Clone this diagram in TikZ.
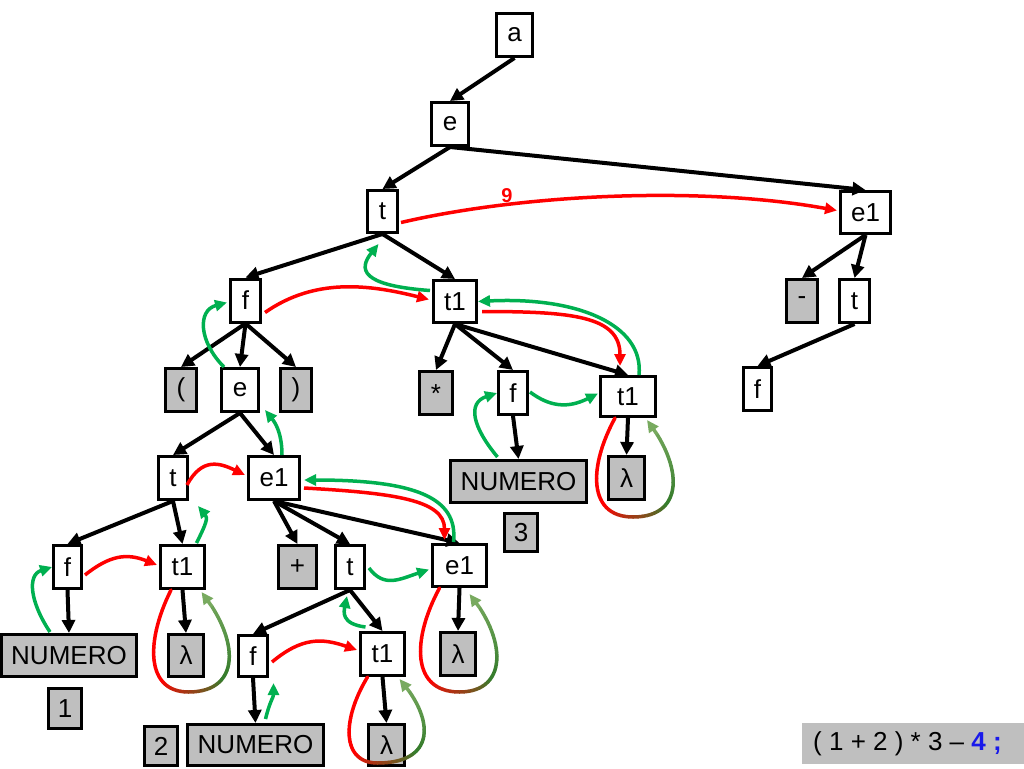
\documentclass[tikz,border=0pt]{standalone}
\usepackage{fontspec}
\setmainfont{Liberation Sans}
\usetikzlibrary{arrows.meta,calc}
\definecolor{arrgreen}{RGB}{0,176,80}
\definecolor{dkgreen}{RGB}{55,125,45}
\definecolor{ltgreen}{RGB}{120,170,95}
\definecolor{exprblue}{RGB}{25,25,235}
\definecolor{arrred}{RGB}{255,0,0}
\newcommand\cubicpt[5]{\pgfmathsetmacro\cres{(1-#1)^3*(#2)+3*(1-#1)^2*(#1)*(#3)+3*(1-#1)*(#1)^2*(#4)+(#1)^3*(#5)}}
% #1 node, #2 sx, #3 lx, #4 bx, #5 by, #6 rx, #7 ex, #8 ey
\newcommand\gradloop[8]{%
  \begin{scope}[shift={(#1.south)}]
    \foreach \i in {1,...,30}{%
      \pgfmathsetmacro\ta{(\i-1)/30}\pgfmathsetmacro\tb{\i/30}%
      \cubicpt{\ta}{#2}{#3}{#3}{#4}\let\xa\cres
      \cubicpt{\ta}{0}{0.5*(#5)}{#5}{#5}\let\ya\cres
      \cubicpt{\tb}{#2}{#3}{#3}{#4}\let\xb\cres
      \cubicpt{\tb}{0}{0.5*(#5)}{#5}{#5}\let\yb\cres
      \pgfmathtruncatemacro\gpa{max(0,min(100,(0.66-(\i-0.5)/60)/0.3*100))}%
      \draw[loopseg,color=red!\gpa!dkgreen] (\xa,\ya) -- (\xb,\yb);
    }
    \foreach \i in {1,...,27}{%
      \pgfmathsetmacro\ta{(\i-1)/30}\pgfmathsetmacro\tb{\i/30}%
      \cubicpt{\ta}{#4}{#6}{#6}{#7}\let\xa\cres
      \cubicpt{\ta}{#5}{#5}{0.5*(#5)}{#8}\let\ya\cres
      \cubicpt{\tb}{#4}{#6}{#6}{#7}\let\xb\cres
      \cubicpt{\tb}{#5}{#5}{0.5*(#5)}{#8}\let\yb\cres
      \pgfmathtruncatemacro\gpa{max(0,min(100,(0.66-0.5-(\i-0.5)/60)/0.3*100))}%
      \pgfmathtruncatemacro\gpb{max(0,min(100,(0.5-(\i-0.5)/60)/0.3*100))}%
      \colorlet{gtmp}{dkgreen!\gpb!ltgreen}%
      \draw[loopseg,color=red!\gpa!gtmp] (\xa,\ya) -- (\xb,\yb);
    }
    \cubicpt{0.9}{#4}{#6}{#6}{#7}\let\xa\cres
    \cubicpt{0.9}{#5}{#5}{0.5*(#5)}{#8}\let\ya\cres
    \draw[line width=3.5pt,color=ltgreen,-{Triangle[length=12pt,width=11pt]}] (\xa,\ya) -- (#7,#8);
  \end{scope}}
\begin{document}
\begin{tikzpicture}[x=1pt,y=-1pt,
  nd/.style={draw,line width=3pt,fill=white,inner sep=0pt,font=\fontsize{26}{30}\selectfont},
  gr/.style={nd,fill=black!25},
  tree/.style={line width=4pt,-{Triangle[length=13pt,width=13pt]}},
  loopseg/.style={line width=3.5pt,line cap=round},
  redarr/.style={line width=3.5pt,color=arrred,-{Triangle[length=12pt,width=11pt]}},
  grnarr/.style={line width=3.5pt,color=arrgreen,-{Triangle[length=12pt,width=11pt]}}]
\useasboundingbox (0,0) rectangle (1024,768);
% nodes
\node[nd,minimum width=36,minimum height=43] (a) at (514.5,35) {a};
\node[nd,minimum width=37,minimum height=43] (e0) at (450,124) {e};
\node[nd,minimum width=30,minimum height=42] (t0) at (382.5,211.5) {t};
\node[nd,minimum width=50,minimum height=42] (e1r) at (865.5,212.5) {e1};
\node[nd,minimum width=30,minimum height=43] (f3) at (245.5,300.5) {f};
\node[nd,minimum width=43,minimum height=42] (t1m) at (455,301.5) {t1};
\node[gr,minimum width=31,minimum height=43] (minus) at (802,301) {-};
\node[nd,minimum width=30,minimum height=43] (tr) at (854.5,301) {t};
\node[nd,minimum width=28,minimum height=43] (fr) at (757.5,389) {f};
\node[gr,minimum width=31,minimum height=43] (lp) at (181,390) {(};
\node[nd,minimum width=37,minimum height=43] (e4) at (240,390) {e};
\node[gr,minimum width=31,minimum height=43] (rp) at (296,390) {)};
\node[gr,minimum width=33,minimum height=43,text height=19pt,text depth=0pt] (star) at (436,393) {*};
\node[nd,minimum width=29,minimum height=43] (f4) at (513,393) {f};
\node[nd,minimum width=55,minimum height=40] (t1r) at (628,396.5) {t1};
\node[gr,minimum width=136,minimum height=42] (num3) at (518.5,481.5) {NUMERO};
\node[gr,minimum width=36,minimum height=43] (lamr) at (626.5,478) {λ};
\node[gr,minimum width=33,minimum height=38] (three) at (521,532.5) {3};
\node[nd,minimum width=29,minimum height=43] (t5) at (173,478) {t};
\node[nd,minimum width=51,minimum height=43] (e15) at (274,478) {e1};
\node[nd,minimum width=28,minimum height=43] (f6) at (67.5,567) {f};
\node[nd,minimum width=44,minimum height=43] (t16) at (182.5,567) {t1};
\node[gr,minimum width=38,minimum height=43] (plus) at (297.5,567) {+};
\node[nd,minimum width=29,minimum height=43] (t6) at (350,567) {t};
\node[nd,minimum width=54,minimum height=42] (e16) at (459.5,565.5) {e1};
\node[gr,minimum width=135,minimum height=42] (num1) at (69,655.5) {NUMERO};
\node[gr,minimum width=35,minimum height=42] (lam6) at (186,655.5) {λ};
\node[nd,minimum width=29,minimum height=41] (f7) at (253,656) {f};
\node[nd,minimum width=44,minimum height=43] (t17) at (382.5,654) {t1};
\node[gr,minimum width=35,minimum height=43] (lame) at (458,654) {λ};
\node[gr,minimum width=33,minimum height=40] (one) at (65,708.5) {1};
\node[gr,minimum width=33,minimum height=39] (two) at (161,746) {2};
\node[gr,minimum width=136,minimum height=41] (num2) at (255.5,745) {NUMERO};
\node[gr,minimum width=36,minimum height=41] (lam7) at (386.5,745) {λ};
% expression box
\node[fill=black!25,minimum width=222,minimum height=41,inner sep=0pt,anchor=north west] (exprbox) at (802,722.5) {};
\node[anchor=west,inner sep=0pt,font=\fontsize{26}{30}\selectfont] (expr) at (813,744)
  {( 1 + 2 ) * 3 – {\color{exprblue}\bfseries 4 ;}};
% tree edges
\draw[tree] (a.south) -- (e0.north);
\draw[tree] (e0.south) -- (t0.north);
\draw[tree] (e0.south) -- (e1r.north);
\draw[tree] (t0.south) -- (f3.north);
\draw[tree] (t0.south) -- (t1m.north);
\draw[tree] (e1r.south) -- (minus.north);
\draw[tree] (e1r.south) -- (tr.north);
\draw[tree] (tr.south) -- (fr.north);
\draw[tree] (f3.south) -- (lp.north);
\draw[tree] (f3.south) -- (e4.north);
\draw[tree] (f3.south) -- (rp.north);
\draw[tree] (t1m.south) -- (star.north);
\draw[tree] (t1m.south) -- (f4.north);
\draw[tree] (t1m.south) -- (t1r.north);
\draw[tree] (f4.south) -- (num3.north);
\draw[tree] (t1r.south) -- (lamr.north);
\draw[tree] (e4.south) -- (t5.north);
\draw[tree] (e4.south) -- (e15.north);
\draw[tree] (t5.south) -- (f6.north);
\draw[tree] (t5.south) -- (t16.north);
\draw[tree] (e15.south) -- (plus.north);
\draw[tree] (e15.south) -- (t6.north);
\draw[tree] (e15.south) -- (e16.north);
\draw[tree] (f6.south) -- (num1.north);
\draw[tree] (t16.south) -- (lam6.north);
\draw[tree] (t6.south) -- (f7.north);
\draw[tree] (t6.south) -- (t17.north);
\draw[tree] (e16.south) -- (lame.north);
\draw[tree] (f7.south) -- (num2.north);
\draw[tree] (t17.south) -- (lam7.north);
% red arrows
\draw[redarr] ([shift={(2,11)}]t0.east) .. controls +(120,-28) and +(-138,-25) .. ([shift={(-2,-2)}]e1r.west);
\node[font=\fontsize{20}{24}\selectfont\bfseries,text=arrred,inner sep=0pt] (nine) at (507,196) {9};
\draw[redarr] ([shift={(3,12)}]f3.east) .. controls +(50,-35) and +(-60,-15) .. ([shift={(-3,-2)}]t1m.west);
\draw[redarr] ([shift={(4,10)}]t1m.east) .. controls +(90,0) and +(0,-50) .. ([shift={(-8,-9)}]t1r.north);
\draw[redarr] ([shift={(-2,7)}]t5.east) .. controls +(15,-28) and +(-25,-12) .. ([shift={(-2,-3)}]e15.west);
\draw[redarr] ([shift={(2,8)}]f6.east) .. controls +(25,-20) and +(-30,-12) .. ([shift={(-2,-2)}]t16.west);
\draw[redarr] ([shift={(3,10)}]e15.east) .. controls +(90,5) and +(0,-40) .. ([shift={(-15,-3)}]e16.north);
\draw[redarr] ([shift={(3,6)}]f7.east) .. controls +(30,-25) and +(-35,-12) .. ([shift={(-2,-4)}]t17.west);
% green arrows
\draw[grnarr] ([shift={(-2,-11)}]t1m.west) .. controls +(-70,-5) and +(-20,25) .. ([shift={(-4,10)}]t0.south);
\draw[grnarr] ([shift={(4,0)}]e4.north west) .. controls +(-25,-25) and +(-30,8) .. ([shift={(-2,2)}]f3.west);
\draw[grnarr] ([shift={(8,0)}]e15.north) .. controls +(0,-25) and +(8,10) .. ([shift={(5,-3)}]e4.south east);
\draw[grnarr] ([shift={(11,0)}]t1r.north) .. controls +(5,-50) and +(100,-5) .. (t1m.east);
\draw[grnarr] ([shift={(-21,-2)}]num3.north) .. controls +(-25,-30) and +(-30,10) .. (f4.west);
\draw[grnarr] ([shift={(1,-1)}]f4.east) .. controls +(20,15) and +(-30,15) .. ([shift={(-1,-3)}]t1r.west);
\draw[grnarr] ([shift={(14,-1)}]t16.north) .. controls +(10,-20) and +(10,12) .. ([shift={(9,5)}]t5.south east);
\draw[grnarr] ([shift={(-19,-1)}]num1.north) .. controls +(-20,-30) and +(-25,8) .. (f6.west);
\draw[grnarr] ([shift={(-6,-1)}]e16.north) .. controls +(5,-45) and +(110,0) .. ([shift={(3,2)}]e15.east);
\draw[grnarr] ([shift={(3,1)}]t6.east) .. controls +(15,20) and +(-30,10) .. ([shift={(-2,4)}]e16.west);
\draw[grnarr] ([shift={(-17,-4)}]t17.north) .. controls +(-25,-3) and +(-3,15) .. ([shift={(-3,6)}]t6.south);
\draw[grnarr] ([shift={(10,-4)}]num2.north) .. controls +(5,-20) and +(0,15) .. ([shift={(4.5,5)}]f7.south east);
% gradient loops
\gradloop{t16}{-11.5}{-37}{6}{102}{58}{19}{2}
\gradloop{t17}{-15}{-41}{-5}{86}{53}{17}{2}
\gradloop{e16}{-20}{-48}{0}{104}{48}{10}{6}
\gradloop{t1r}{-13}{-40}{5}{99}{56}{19}{2}
\end{tikzpicture}
\end{document}
